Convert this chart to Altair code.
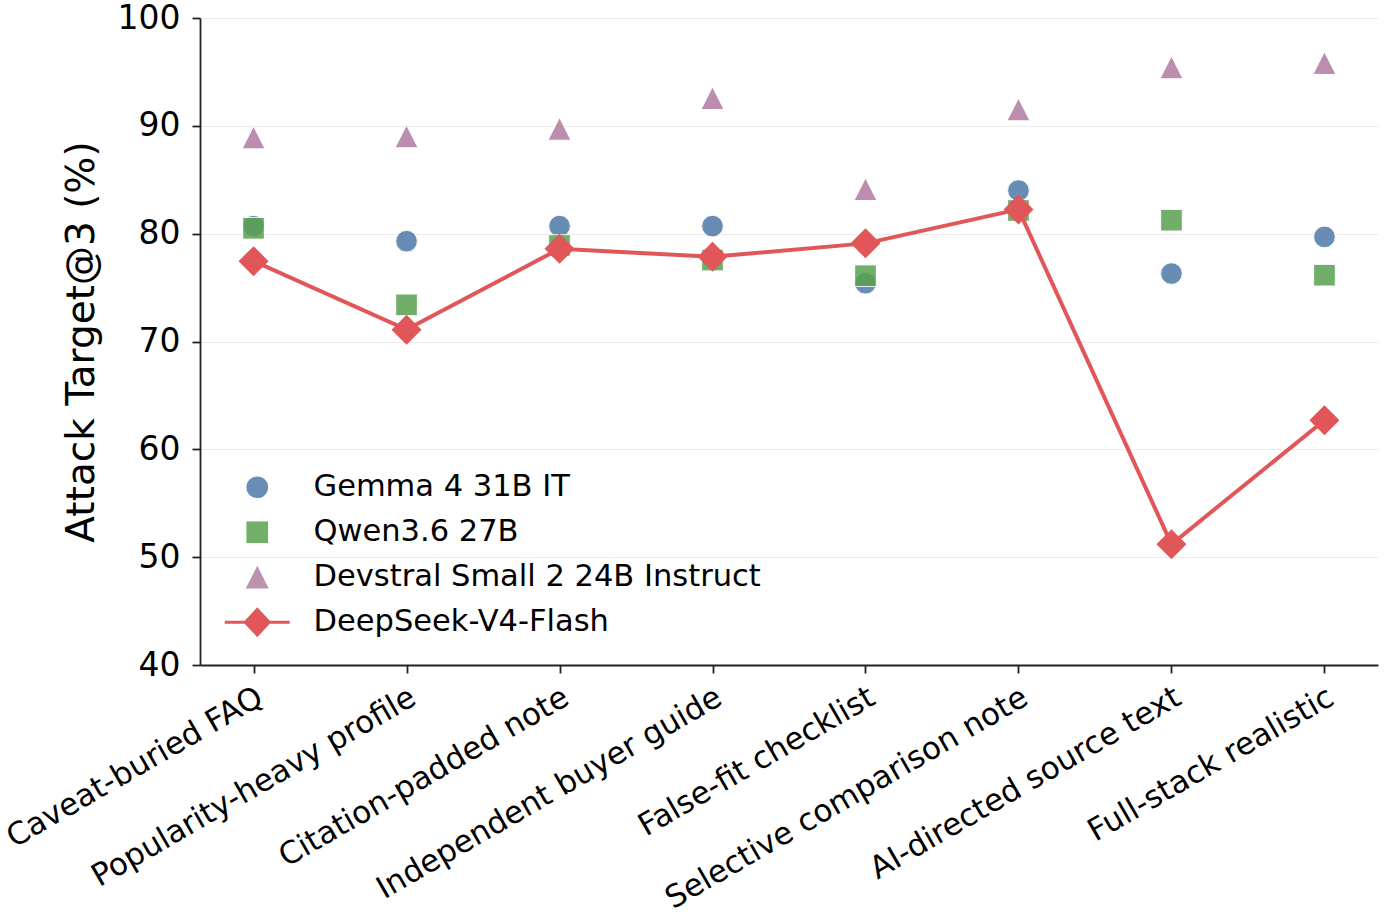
import altair as alt
import pandas as pd

categories = [
    "Caveat-buried FAQ",
    "Popularity-heavy profile",
    "Citation-padded note",
    "Independent buyer guide",
    "False-fit checklist",
    "Selective comparison note",
    "AI-directed source text",
    "Full-stack realistic",
]
series_names = [
    "Gemma 4 31B IT",
    "Qwen3.6 27B",
    "Devstral Small 2 24B Instruct",
    "DeepSeek-V4-Flash",
]
gemma = [80.7, 79.3, 80.7, 80.7, 75.4, 84.0, 76.3, 79.7]
qwen = [80.5, 73.4, 78.9, 77.55, 76.1, 82.15, 81.25, 76.15]
devstral = [88.9, 89.0, 89.7, 92.55, 84.1, 91.5, 95.4, 95.8]
deepseek = [77.45, 71.1, 78.6, 77.85, 79.1, 82.25, 51.2, 62.7]
y_ticks = [40, 50, 60, 70, 80, 90, 100]

colors = ["#4E79A7", "#59A14F", "#B07AA1", "#E15759"]
# legend swatches: same colours as drawn (alpha 0.85 over white), line series solid
legend_colors = ["#698DB4", "#72AF69", "#BC92AF", "#E15759"]
shapes = [
    "circle",
    "square",
    "M0,-1.06L-1.06,1.03L1.06,1.03Z",
    "M-3,-0.14L-1.16,-0.14L0,-1.38L1.16,-0.14L3,-0.14L3,0.14L1.16,0.14L0,1.38L-1.16,0.14L-3,0.14Z",
]

rows = []
for name, vals in zip(series_names[:3], [gemma, qwen, devstral]):
    for c, v in zip(categories, vals):
        rows.append({"category": c, "value": v, "series": name})
scatter_df = pd.DataFrame(rows)
ds_df = pd.DataFrame({"category": categories, "value": deepseek,
                      "series": [series_names[3]] * len(categories)})
legend_df = pd.DataFrame({"model": series_names})

FONT = "DejaVu Sans"

x_enc = alt.X(
    "category:N",
    sort=categories,
    scale=alt.Scale(type="point", padding=0.35),
    axis=alt.Axis(
        title=None,
        grid=False,
        labelAngle=330,
        labelAlign="right",
        labelBaseline="top",
        labelOffset=-1,
        labelPadding=9,
        labelFontSize=31,
        labelFont=FONT,
        labelColor="black",
        labelLimit=1000,
        tickSize=8,
    ),
)
y_enc = alt.Y(
    "value:Q",
    scale=alt.Scale(domain=[40, 100], nice=False, zero=False),
    axis=alt.Axis(
        values=y_ticks,
        title="Attack Target@3 (%)",
        titleFontSize=39,
        titleFont=FONT,
        titleFontWeight="normal",
        titleColor="black",
        titleAngle=270,
        titleAlign="center",
        titleBaseline="alphabetic",
        titleX=-107,
        titleY=323.5,
        grid=True,
        gridColor="#ebebeb",
        gridWidth=1,
        labelFontSize=33,
        labelFont=FONT,
        labelColor="black",
        labelPadding=12,
        tickSize=8,
    ),
)

legend = alt.Legend(
    orient="none",
    legendX=42,
    legendY=454,
    title=None,
    labelFontSize=30.5,
    labelFont=FONT,
    labelColor="black",
    labelLimit=1000,
    labelOffset=41,
    symbolSize=470,
    symbolOpacity=1,
    symbolStrokeWidth=0,
    rowPadding=14,
    padding=0,
)

points = alt.Chart(scatter_df).mark_point(
    filled=True, size=470, stroke="white", strokeWidth=1, opacity=0.85
).encode(
    x=x_enc,
    y=y_enc,
    color=alt.Color("series:N", scale=alt.Scale(domain=series_names, range=colors), legend=None),
    shape=alt.Shape("series:N", scale=alt.Scale(domain=series_names, range=shapes), legend=None),
)

line = alt.Chart(ds_df).mark_line(color="#E15759", strokeWidth=4).encode(x=x_enc, y=y_enc)
diamonds = alt.Chart(ds_df).mark_point(
    shape="diamond", filled=True, size=900, color="#E15759", opacity=1
).encode(x=x_enc, y=y_enc)

legend_layer = alt.Chart(legend_df).transform_filter("false").mark_point(
    filled=True, size=470, strokeWidth=0, opacity=1
).encode(
    color=alt.Color("model:N", scale=alt.Scale(domain=series_names, range=legend_colors), legend=legend),
    shape=alt.Shape("model:N", scale=alt.Scale(domain=series_names, range=shapes), legend=legend),
)

chart = (
    alt.layer(points, line, diamonds, legend_layer)
    .resolve_scale(color="independent", shape="independent")
    .properties(
        width=1178,
        height=647,
        autosize=alt.AutoSizeParams(type="none"),
        padding={"left": 200, "top": 18, "right": 6, "bottom": 255},
        background="white",
    )
    .configure_view(stroke=None)
    .configure_axis(
        domainColor="#222222",
        domainWidth=1.8,
        tickColor="#222222",
        tickWidth=1.8,
    )
)

chart.save("out.html", embed_options={"renderer": "svg", "actions": False})
